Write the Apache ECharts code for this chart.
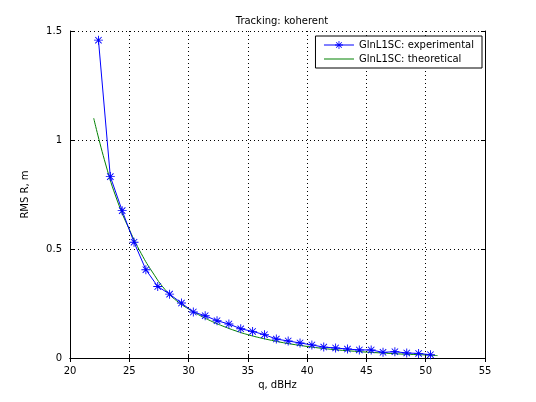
<!DOCTYPE html>
<html><head><meta charset="utf-8">
<script src="https://cdn.jsdelivr.net/npm/echarts@6/dist/echarts.min.js"></script>
<style>html,body{margin:0;background:#fff}#c{width:536px;height:402px}</style>
</head><body><div id="c"></div>
<script>
const expX = [22.4,23.4,24.4,25.4,26.4,27.4,28.4,29.4,30.4,31.4,32.4,33.4,34.4,35.4,36.4,37.4,38.4,39.4,40.4,41.4,42.4,43.4,44.4,45.4,46.4,47.4,48.4,49.4,50.4];
const expY = [1.458,0.832,0.676,0.531,0.405,0.328,0.293,0.252,0.211,0.194,0.171,0.156,0.134,0.122,0.107,0.087,0.078,0.069,0.060,0.050,0.046,0.041,0.037,0.037,0.026,0.029,0.023,0.021,0.015];
const thX = [22,23,24,25,26,27,28,29,30,31,32,33,34,35,36,37,38,39,40,41,42,43,44,45,46,47,48,49,50,51];
const thY = [1.10,0.89,0.72,0.59,0.48,0.39,0.315,0.262,0.225,0.194,0.167,0.144,0.124,0.107,0.093,0.081,0.070,0.061,0.053,0.046,0.040,0.035,0.031,0.027,0.024,0.021,0.018,0.016,0.014,0.011];
const yTickLabels = {0:'0',0.5:'0.5',1:'1',1.5:'1.5'};
const names = ['GlnL1SC: experimental','GlnL1SC: theoretical'];
const star = 'path://M-0.5,-5L0.5,-5L0.5,5L-0.5,5ZM-5,-0.5L5,-0.5L5,0.5L-5,0.5ZM-3.9,-3.2L-3.2,-3.9L3.9,3.2L3.2,3.9ZM3.2,-3.9L3.9,-3.2L-3.2,3.9L-3.9,3.2Z';
const F = 'DejaVu Sans';
const ax = {color:'#000'};
const chart = echarts.init(document.getElementById('c'));
chart.setOption({
  animation:false,
  textStyle:{fontFamily:F},
  title:{text:'Tracking: koherent',left:277,top:11,textAlign:'center',textStyle:{fontSize:10,fontWeight:'normal',color:'#000',fontFamily:F}},
  grid:{left:70,right:51,top:31,bottom:44},
  legend:{orient:'vertical',right:54,top:36,backgroundColor:'#fff',borderColor:'#000',borderWidth:1,borderRadius:0,padding:[4,8,4,8],itemGap:4,itemWidth:30,itemHeight:10,
    lineStyle:{width:1},textStyle:{fontSize:10,color:'#000',fontFamily:F},
    data:[{name:names[0]},{name:names[1],icon:'path://M0,4.5L30,4.5L30,5.5L0,5.5Z'}]},
  xAxis:[{type:'value',min:20,max:55,interval:5,name:'q, dBHz',nameLocation:'middle',nameGap:22,nameTextStyle:{fontSize:10,color:'#000'},
    axisLine:{lineStyle:ax},axisTick:{inside:true,length:4,lineStyle:ax},axisLabel:{fontSize:10,color:'#000'},
    splitLine:{show:true,lineStyle:{color:'#000',type:[1,3]}}},
    {type:'value',position:'top',min:20,max:55,interval:5,axisLine:{lineStyle:ax},axisTick:{inside:true,length:4,lineStyle:ax},axisLabel:{show:false},splitLine:{show:false}}],
  yAxis:[{type:'value',min:0,max:1.5,interval:0.5,name:'RMS R, m',nameLocation:'middle',nameGap:40,nameTextStyle:{fontSize:10,color:'#000'},
    axisLine:{show:true,lineStyle:ax},axisTick:{show:true,inside:true,length:4,lineStyle:ax},axisLabel:{fontSize:10,color:'#000',formatter:v=>yTickLabels[v]??String(v)},
    splitLine:{show:true,lineStyle:{color:'#000',type:[1,3]}}},
    {type:'value',position:'right',min:0,max:1.5,interval:0.5,axisLine:{show:true,lineStyle:ax},axisTick:{show:true,inside:true,length:4,lineStyle:ax},axisLabel:{show:false},splitLine:{show:false}}],
  series:[
    {name:names[0],type:'line',data:expX.map((x,i)=>[x,expY[i]]),symbol:star,symbolSize:9,showAllSymbol:true,
      lineStyle:{color:'#0000ff',width:1},itemStyle:{color:'#0000ff'},z:3},
    {name:names[1],type:'line',data:thX.map((x,i)=>[x,thY[i]]),smooth:true,showSymbol:false,symbol:'none',
      lineStyle:{color:'#008000',width:1},itemStyle:{color:'#008000'},z:2}
  ]
});
</script></body></html>
